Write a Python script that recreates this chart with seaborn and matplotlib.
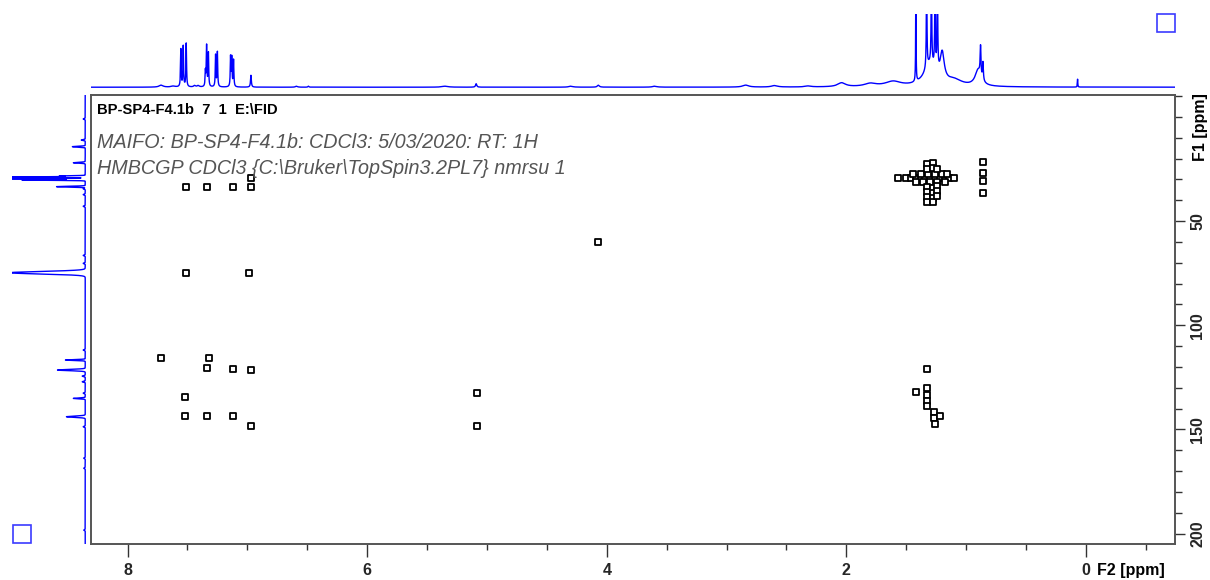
import numpy as np
import pandas as pd
import matplotlib
matplotlib.use("Agg")
import matplotlib.pyplot as plt
import seaborn as sns
from matplotlib.ticker import MultipleLocator, FixedLocator, FuncFormatter
from matplotlib.patches import Rectangle

sns.set_theme(style="white")
plt.rcParams["font.family"] = ["Liberation Sans", "DejaVu Sans"]

# ---------------- data ----------------
# 1H projection (F2): peak position [ppm], height [a.u.], half width [ppm]
h1_ppm = [7.72, 7.62, 7.555, 7.535, 7.51, 7.44, 7.41, 7.35, 7.34, 7.325, 7.265, 7.25,
          7.14, 7.13, 7.115, 6.97, 6.59, 6.49, 5.35, 5.09, 4.30, 4.07, 3.60, 2.84,
          2.60, 2.32, 2.04, 1.80, 1.61, 1.42, 1.33, 1.29, 1.26, 1.24, 1.30, 1.20,
          1.10, 0.90, 0.88, 0.86, 0.07]
h1_height = [2, 1, 38, 41, 44, 1.5, 1.5, 15, 41, 34, 32, 35,
             30, 29, 27, 12, 1, 1, 1, 3.5, 1, 2, 1, 2,
             1.5, 1, 4, 3, 5, 95, 95, 95, 95, 95, 22, 28,
             6, 16, 30, 18, 8]
h1_width = [0.02, 0.02, 0.003, 0.003, 0.003, 0.01, 0.01, 0.003, 0.003, 0.003, 0.003, 0.003,
            0.003, 0.003, 0.003, 0.004, 0.01, 0.005, 0.03, 0.006, 0.02, 0.01, 0.02, 0.03,
            0.03, 0.03, 0.04, 0.06, 0.08, 0.002, 0.003, 0.003, 0.003, 0.003, 0.06, 0.02,
            0.08, 0.03, 0.004, 0.004, 0.002]

# 13C projection (F1): peak position [ppm], height [a.u.], half width [ppm]
c13_ppm = [1.0, 11.1, 14.3, 22.0, 28.4, 28.9, 29.7, 30.3, 33.5, 34.5, 37.3, 42.9,
           66.5, 70.3, 74.8, 111.9, 116.7, 121.5, 124.4, 127.1, 132.6, 135.1,
           143.9, 148.7, 163.8, 168.6, 198.3]
c13_height = [2, 4, 13, 12, 26, 74, 76, 64, 29, 2, 2, 2,
              2, 2, 76, 2, 20, 28, 3, 3, 2, 12,
              19, 2, 1.5, 1.5, 1.5]
c13_width = [0.2, 0.2, 0.2, 0.2, 0.15, 0.15, 0.15, 0.15, 0.2, 0.2, 0.2, 0.2,
             0.2, 0.2, 0.6, 0.2, 0.2, 0.3, 0.2, 0.2, 0.2, 0.2,
             0.3, 0.2, 0.2, 0.2, 0.2]

# HMBC cross peaks: F2 (1H) and F1 (13C) positions [ppm]
cross_h = [7.51, 7.34, 7.12, 6.97, 6.97, 7.51, 6.99, 4.07,
           7.72, 7.32, 7.34, 7.12, 6.97, 7.52, 7.52, 7.34, 7.12, 6.97, 5.08, 5.08,
           1.57,
           1.50, 1.46, 1.42, 1.38, 1.34, 1.30, 1.26, 1.22, 1.18, 1.14, 1.10,
           1.44, 1.38, 1.32, 1.26, 1.20, 1.16,
           1.42, 1.36, 1.30, 1.24, 1.18,
           1.33, 1.33, 1.33, 1.33, 1.33, 1.33,
           1.28, 1.28, 1.28, 1.28, 1.28, 1.28,
           1.24, 1.24, 1.24, 1.24,
           0.86, 0.86, 0.86, 0.86,
           1.33, 1.42, 1.33, 1.33, 1.33, 1.33, 1.27, 1.27, 1.26, 1.22]
cross_c = [33.7, 33.7, 33.7, 29.3, 33.7, 75.0, 75.0, 60.1,
           115.8, 115.8, 120.6, 121.1, 121.5, 134.5, 143.6, 143.6, 143.6, 148.4, 132.6, 148.4,
           29.3,
           29.3, 29.3, 29.3, 29.3, 29.3, 29.3, 29.3, 29.3, 29.3, 29.3, 29.3,
           27.2, 27.2, 27.2, 27.2, 27.2, 27.2,
           31.4, 31.4, 31.4, 31.4, 31.4,
           22.5, 24.8, 33.6, 36.0, 38.4, 40.8,
           22.0, 24.3, 34.0, 36.4, 38.8, 41.0,
           25.0, 33.2, 35.6, 38.0,
           21.7, 27.0, 30.8, 36.5,
           121.0, 132.1, 130.2, 133.5, 136.5, 139.0, 141.5, 144.5, 147.5, 143.5]

title_text = "BP-SP4-F4.1b  7  1  E:\\FID"
info_line1 = "MAIFO: BP-SP4-F4.1b: CDCl3: 5/03/2020: RT: 1H"
info_line2 = "HMBCGP CDCl3 {C:\\Bruker\\TopSpin3.2PL7} nmrsu 1"
f2_range = (8.305, -0.743)
f1_range = (205.0, -10.5)


def lorentz_sum(grid, pos, hgt, wid):
    out = np.zeros_like(grid)
    for p, h, w in zip(pos, hgt, wid):
        out += h * w * w / ((grid - p) ** 2 + w * w)
    return out


def gauss_sum(grid, pos, hgt, wid):
    out = np.zeros_like(grid)
    for p, h, w in zip(pos, hgt, wid):
        out += h * np.exp(-0.5 * ((grid - p) / w) ** 2)
    return out


# ---------------- layout ----------------
W, H = 1210, 580
fig = plt.figure(figsize=(W / 100, H / 100), dpi=100)
fig.patch.set_facecolor("white")


def fa(x0, y0, x1, y1):
    return [x0 / W, 1 - y1 / H, (x1 - x0) / W, (y1 - y0) / H]


ax = fig.add_axes(fa(91, 95, 1175, 544))
axt = fig.add_axes(fa(91, 14, 1175, 88))
axl = fig.add_axes(fa(12, 95, 86, 544))

blue = "#0000ff"

# top 1H projection
gx = np.linspace(-0.8, 8.4, 14000)
top_df = pd.DataFrame({"ppm": gx, "I": lorentz_sum(gx, h1_ppm, h1_height, h1_width)})
sns.lineplot(data=top_df, x="ppm", y="I", ax=axt, color=blue, lw=1.0,
             estimator=None, sort=False)
axt.set_xlim(*f2_range)
axt.set_ylim(-0.8, 74)
axt.axis("off")

# left 13C projection
gy = np.linspace(-11, 206, 9000)
left_df = pd.DataFrame({"ppm": gy, "I": gauss_sum(gy, c13_ppm, c13_height, c13_width)})
sns.lineplot(data=left_df, x="I", y="ppm", ax=axl, color=blue, lw=1.0,
             estimator=None, sort=False, orient="y")
axl.set_ylim(*f1_range)
axl.set_xlim(74, -0.8)
axl.axis("off")

# main 2D HMBC panel
cross_df = pd.DataFrame({"H": cross_h, "C": cross_c})
sns.scatterplot(data=cross_df, x="H", y="C", ax=ax, marker="s", s=13,
                facecolor="white", edgecolor="black", linewidth=1.3, zorder=3)
ax.set_xlim(*f2_range)
ax.set_ylim(*f1_range)
ax.set_xlabel("")
ax.set_ylabel("")
for sp in ax.spines.values():
    sp.set_color("#555555")
    sp.set_linewidth(1.4)
ax.set_facecolor("white")

ax.xaxis.set_major_locator(MultipleLocator(2))
ax.xaxis.set_minor_locator(MultipleLocator(0.5))
ax.xaxis.set_major_formatter(FuncFormatter(lambda v, p: f"{v:g}"))
ax.yaxis.tick_right()
ax.yaxis.set_major_locator(FixedLocator([50, 100, 150, 200]))
ax.yaxis.set_minor_locator(MultipleLocator(10))
ax.tick_params(axis="x", which="major", direction="out", length=9, width=1,
               color="#333333", labelsize=11.5, pad=5, bottom=True)
ax.tick_params(axis="x", which="minor", direction="out", length=4.5, width=1,
               color="#333333", bottom=True)
ax.tick_params(axis="y", which="major", direction="out", length=7, width=1,
               color="#333333", labelsize=11.5, pad=4, right=True, left=False)
ax.tick_params(axis="y", which="minor", direction="out", length=5, width=1,
               color="#333333", right=True, left=False)
for lab in ax.get_xticklabels():
    lab.set_fontweight("bold")
for lab in ax.get_yticklabels():
    lab.set_fontweight("bold")
    lab.set_rotation(90)
    lab.set_va("center")

# axis labels (Bruker style)
fig.text(1097 / W, 1 - 571 / H, "F2 [ppm]", fontsize=11.5, fontweight="bold",
         ha="left", va="center", color="black")
fig.text(1200 / W, 1 - 127 / H, "F1 [ppm]", fontsize=11.5, fontweight="bold",
         ha="center", va="center", rotation=90, color="black")

# title block
fig.text(97 / W, 1 - 110 / H, title_text, fontsize=10.6, fontweight="bold",
         ha="left", va="center", color="black")
fig.text(97 / W, 1 - 143 / H, info_line1, fontsize=14.2, fontstyle="italic",
         ha="left", va="center", color="#555555")
fig.text(97 / W, 1 - 168 / H, info_line2, fontsize=14.2, fontstyle="italic",
         ha="left", va="center", color="#555555")

# small blue boxes in the corners
fig.add_artist(Rectangle((1157 / W, 1 - 32 / H), 18 / W, 18 / H, transform=fig.transFigure,
                         fill=False, edgecolor="#3b3bff", lw=1.2))
fig.add_artist(Rectangle((13 / W, 1 - 543 / H), 18 / W, 18 / H, transform=fig.transFigure,
                         fill=False, edgecolor="#3b3bff", lw=1.2))

fig.savefig("out.png", dpi=100)
